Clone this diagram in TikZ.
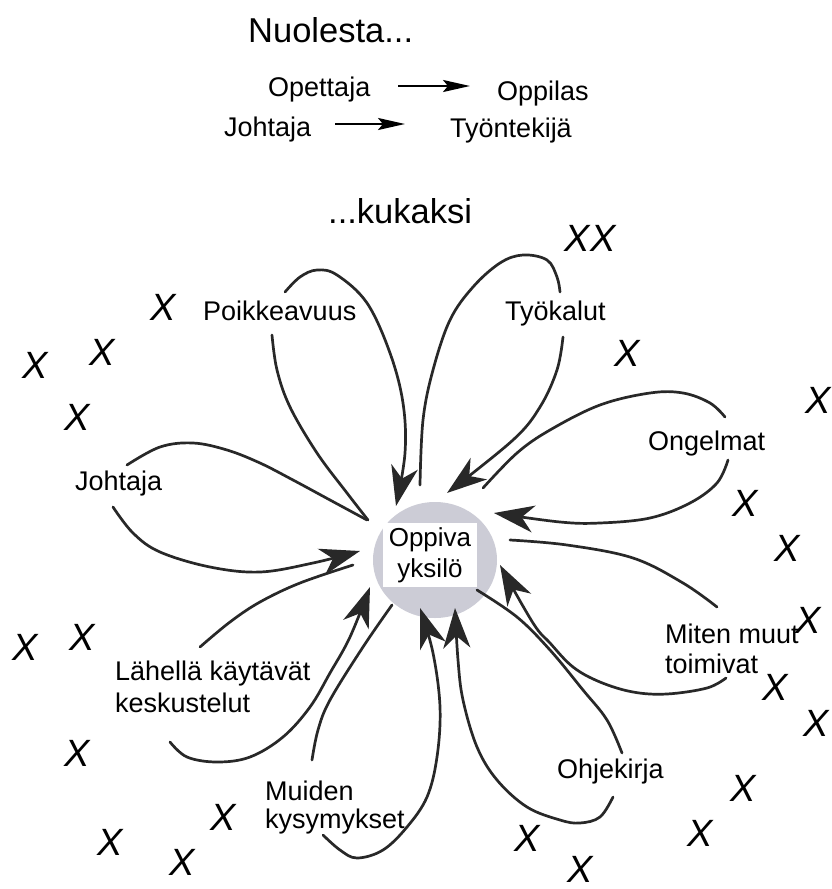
\documentclass[tikz,border=0pt]{standalone}
\usepackage{fontspec}
\setmainfont{Liberation Sans}
\usetikzlibrary{arrows.meta,shapes.geometric}
\definecolor{ellc}{RGB}{204,204,214}
\definecolor{ink}{RGB}{40,40,40}
\begin{document}
\begin{tikzpicture}[x=1pt,y=-1pt,
  lbl/.style={font=\fontsize{27}{31}\selectfont, inner sep=0pt, align=left, anchor=base west},
  ttl/.style={font=\fontsize{34.5}{40}\selectfont, inner sep=0pt, anchor=base west},
  toptxt/.style={font=\fontsize{27}{31}\selectfont, inner sep=0pt, anchor=base west},
  xmark/.style={font=\fontsize{38}{40}\selectfont\itshape, inner sep=0pt},
  strand/.style={line width=2.7pt, draw=ink, line cap=round},
  loopar/.style={strand, -{Stealth[length=40pt, width=27pt, inset=12pt]}},
  toparrow/.style={line width=2.4pt, draw=black, -{Stealth[length=27pt, width=12pt, inset=5pt]}},
]
\useasboundingbox (0,0) rectangle (832,889);
\fill[white] (0,0) rectangle (832,889);

% title and top lines
\node[ttl] (nuo) at (248,42) {Nuolesta...};
\node[toptxt] (ope) at (268,96) {Opettaja};
\node[toptxt] (opp) at (497,100) {Oppilas};
\node[toptxt] (joh0) at (224,136) {Johtaja};
\node[toptxt] (tyo) at (450,137) {Työntekijä};
\node[ttl] (kuk) at (328,223) {...kukaksi};
\draw[toparrow, shorten <=28pt, shorten >=27pt] (ope.east |- 0,86) -- (opp.west |- 0,86);
\draw[toparrow, shorten <=24pt, shorten >=45pt] (joh0.east |- 0,124) -- (tyo.west |- 0,124);

% central learner
\node[ellipse, fill=ellc, minimum width=124pt, minimum height=116pt, inner sep=0pt] (ell) at (435,560) {};
\node[fill=white, minimum width=94pt, minimum height=64pt, inner sep=0pt, align=center,
      font=\fontsize{26}{31}\selectfont] (oy) at (430,555) {Oppiva\\yksilö};

% named free ends of the loops
\coordinate (jS) at (367,520); \coordinate (ja) at (127,465); \coordinate (jb) at (113,507); \coordinate (jE) at (360,551);
\coordinate (pS) at (368,520); \coordinate (pa) at (272,335); \coordinate (pb) at (285,292); \coordinate (pE) at (396,506);
\coordinate (tS) at (420,485); \coordinate (ta) at (560,292); \coordinate (tb) at (563,337); \coordinate (tE) at (447,493);
\coordinate (oS) at (483,488); \coordinate (oa) at (725,417); \coordinate (ob) at (728,460); \coordinate (oE) at (494,513);
\coordinate (mS) at (510,540); \coordinate (ma) at (717,607); \coordinate (mb) at (726,678); \coordinate (mE) at (500,565);
\coordinate (hS) at (477,590); \coordinate (ha) at (622,753); \coordinate (hb) at (613,797); \coordinate (hE) at (455,608);
\coordinate (kS) at (392,605); \coordinate (ka) at (312,760); \coordinate (kb) at (323,835); \coordinate (kE) at (420,608);
\coordinate (lS) at (353,565); \coordinate (la) at (200,647); \coordinate (lb) at (170,742); \coordinate (lE) at (370,587);

% Johtaja
\draw[strand] plot[smooth, tension=0.6] coordinates {(jS) (330,500) (293,480) (260,463) (227,450) (193,443) (160,447) (ja)};
\draw[loopar] plot[smooth, tension=0.6] coordinates {(jb) (133,533) (160,552) (210,567) (260,572) (313,563) (jE)};
% Poikkeavuus
\draw[strand] plot[smooth, tension=0.6] coordinates {(pS) (347,493) (317,453) (290,407) (277,370) (pa)};
\draw[loopar] plot[smooth, tension=0.6] coordinates {(pb) (300,277) (317,270) (337,275) (367,303) (390,353) (403,403) (405,453) (pE)};
% Työkalut
\draw[strand] plot[smooth, tension=0.6] coordinates {(tS) (423,420) (433,370) (450,320) (473,287) (500,263) (523,255) (547,260) (557,277) (ta)};
\draw[loopar] plot[smooth, tension=0.6] coordinates {(tb) (557,370) (540,407) (513,440) (tE)};
% Ongelmat
\draw[strand] plot[smooth, tension=0.6] coordinates {(oS) (517,453) (550,430) (600,405) (650,393) (683,393) (710,403) (oa)};
\draw[loopar] plot[smooth, tension=0.6] coordinates {(ob) (717,483) (690,503) (650,518) (600,523) (560,522) (oE)};
% Miten muut toimivat
\draw[strand] plot[smooth, tension=0.6] coordinates {(mS) (567,545) (633,558) (683,583) (ma)};
\draw[loopar] plot[smooth, tension=0.6] coordinates {(mb) (707,688) (667,694) (633,692) (600,682) (573,667) (550,643) (533,623) (mE)};
% Ohjekirja
\draw[strand] plot[smooth, tension=0.6] coordinates {(hS) (517,617) (550,650) (583,690) (607,720) (ha)};
\draw[loopar] plot[smooth, tension=0.6] coordinates {(hb) (600,817) (580,823) (560,820) (527,807) (497,780) (477,747) (463,700) (458,660) (hE)};
% Muiden kysymykset
\draw[strand] plot[smooth, tension=0.6] coordinates {(kS) (363,647) (330,700) (318,730) (ka)};
\draw[loopar] plot[smooth, tension=0.6] coordinates {(kb) (340,850) (357,858) (383,850) (407,827) (427,797) (437,757) (440,707) (433,653) (kE)};
% Lähellä käytävät keskustelut
\draw[strand] plot[smooth, tension=0.6] coordinates {(lS) (300,583) (260,602) (230,622) (la)};
\draw[loopar] plot[smooth, tension=0.6] coordinates {(lb) (187,757) (217,762) (250,757) (283,737) (310,707) (330,673) (350,637) (lE)};

% labels (base anchor = baseline of the last line)
\node[lbl] (ljoh) at (75,490) {Johtaja};
\node[lbl] (lpoi) at (203,320) {Poikkeavuus};
\node[lbl] (ltyo) at (505,320) {Työkalut};
\node[lbl] (long) at (648,450) {Ongelmat};
\node[lbl, font=\fontsize{27}{30}\selectfont] (lmit) at (665,673) {Miten muut\\toimivat};
\node[lbl] (lohj) at (557,778) {Ohjekirja};
\node[lbl, font=\fontsize{27}{28}\selectfont] (lmui) at (265,828) {Muiden\\kysymykset};
\node[lbl, font=\fontsize{27}{32}\selectfont] (llah) at (115,712) {Lähellä käytävät\\keskustelut};

% crosses
\node[xmark] (x1) at (163,307) {X};
\node[xmark] (x2) at (102,352) {X};
\node[xmark] (x3) at (35,365) {X};
\node[xmark] (x4) at (77,417) {X};
\node[xmark] (x5) at (590,238) {XX};
\node[xmark] (x6) at (627,353) {X};
\node[xmark] (x7) at (818,400) {X};
\node[xmark] (x8) at (745,503) {X};
\node[xmark] (x9) at (787,548) {X};
\node[xmark] (x10) at (808,620) {X};
\node[xmark] (x11) at (775,687) {X};
\node[xmark] (x12) at (816,723) {X};
\node[xmark] (x13) at (743,788) {X};
\node[xmark] (x14) at (700,833) {X};
\node[xmark] (x15) at (527,838) {X};
\node[xmark] (x16) at (580,869) {X};
\node[xmark] (x17) at (25,647) {X};
\node[xmark] (x18) at (82,637) {X};
\node[xmark] (x19) at (77,753) {X};
\node[xmark] (x20) at (110,842) {X};
\node[xmark] (x21) at (182,862) {X};
\node[xmark] (x22) at (223,817) {X};
\end{tikzpicture}
\end{document}
